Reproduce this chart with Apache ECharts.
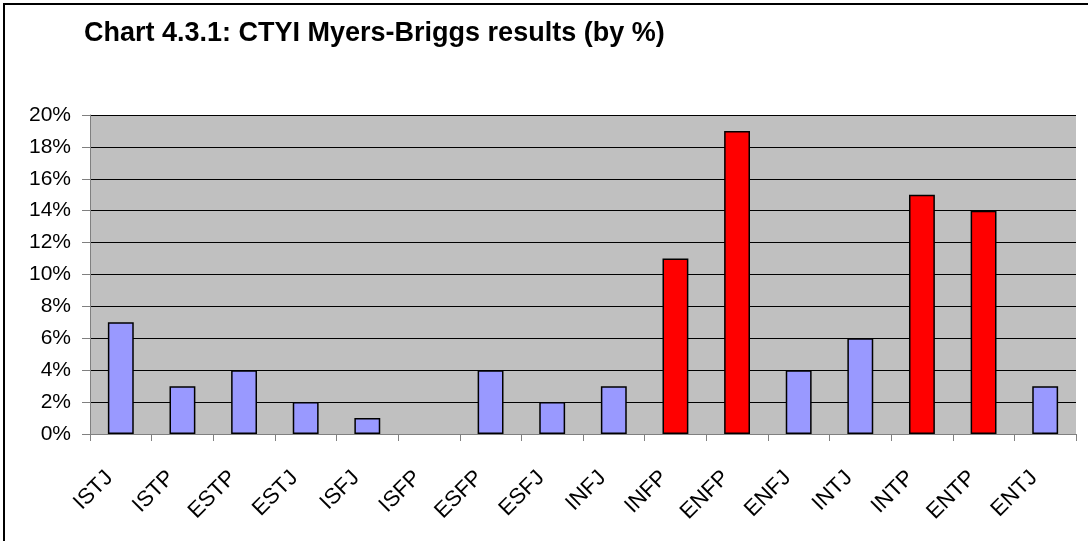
<!DOCTYPE html>
<html>
<head>
<meta charset="utf-8">
<script src="https://cdn.jsdelivr.net/npm/echarts@6/dist/echarts.min.js"></script>
<style>
  html, body { margin: 0; padding: 0; background: #fff; }
  #chart { width: 1088px; height: 541px; }
  /* frame of the original picture: only the top and left edges are visible */
  #frame { position: absolute; left: 3px; top: 3px; right: 0; bottom: 0;
           border-top: 2px solid #000; border-left: 2px solid #000; pointer-events: none; }
</style>
</head>
<body>
<div id="chart"></div>
<div id="frame"></div>
<script>
// MBTI types along the x axis
const types = ["ISTJ", "ISTP", "ESTP", "ESTJ", "ISFJ", "ISFP", "ESFP", "ESFJ",
               "INFJ", "INFP", "ENFP", "ENFJ", "INTJ", "INTP", "ENTP", "ENTJ"];
// share of respondents, in %
const percents = [7, 3, 4, 2, 1, 0, 4, 2, 3, 11, 19, 4, 6, 15, 14, 3];
// types drawn in red
const highlighted = ["INFP", "ENFP", "INTP", "ENTP"];

const chart = echarts.init(document.getElementById("chart"));

chart.setOption({
  animation: false,
  textStyle: { fontFamily: "Liberation Sans, Arial, sans-serif" },
  title: {
    text: "Chart 4.3.1: CTYI Myers-Briggs results (by %)",
    left: 79,
    top: 15,
    textStyle: { fontSize: 27, fontWeight: "bold", color: "#000" }
  },
  grid: { left: 90, right: 12, top: 115, bottom: 107, backgroundColor: "#c0c0c0", show: true, borderWidth: 0 },
  xAxis: {
    type: "category",
    data: types,
    axisLine: { lineStyle: { color: "#808080", width: 1 } },
    axisTick: { show: true, length: 7, lineStyle: { color: "#808080" } },
    axisLabel: { rotate: 45, fontSize: 22, color: "#000", margin: 29, padding: [0, 16, 0, 0], interval: 0 }
  },
  yAxis: {
    type: "value",
    min: 0,
    max: 20,
    interval: 2,
    axisLine: { show: true, lineStyle: { color: "#808080" } },
    axisTick: { show: true, length: 8, lineStyle: { color: "#808080" } },
    axisLabel: { formatter: "{value}%", fontSize: 21, color: "#000", margin: 19 },
    splitLine: { lineStyle: { color: "#000", width: 1 } }
  },
  series: [{
    type: "bar",
    data: percents.map((v, i) => ({
      value: v,
      itemStyle: {
        color: highlighted.includes(types[i]) ? "#ff0000" : "#9999ff",
        borderWidth: v === 0 ? 0 : 1.5
      }
    })),
    barWidth: "42%",
    itemStyle: { borderColor: "#000" }
  }]
});
</script>
</body>
</html>
